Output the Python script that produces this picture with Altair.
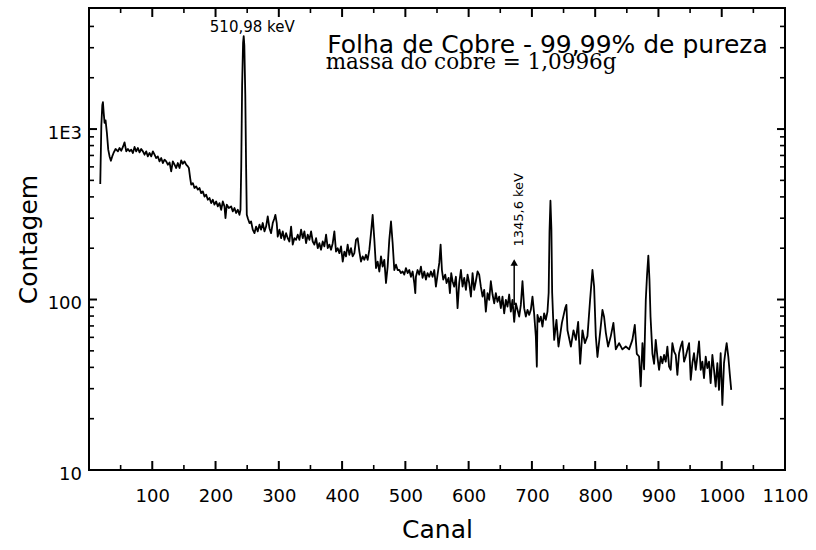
import altair as alt
import pandas as pd

canal = [17.8, 19.5, 21, 22, 23.2, 24.6, 26.2, 28.3, 30.4, 32.5, 34.6, 36.7, 38.8, 42, 45.7, 48.3, 51, 53.6, 56.2, 58.9,
         61.5, 64.1, 66.7, 69.4, 72, 74.6, 77.3, 79.9, 82.5, 85.2, 87.8, 90.4, 93, 95.7, 98.3, 101, 103.6, 106.2, 108.8, 111.5,
         114.1, 116.7, 119.4, 122, 124.6, 127.3, 129.9, 132.5, 135.2, 137.8, 140.4, 143.1, 145.7, 148.3, 151, 153.6, 156.2, 157.8, 159.9, 161.5,
         164.1, 166.7, 169.4, 172, 174.6, 177.3, 179.9, 182.5, 185.2, 187.8, 190.4, 193.1, 195.7, 198.3, 201, 203.6, 206.2, 208.9, 211.5, 214.1,
         215.7, 217.8, 221, 224.6, 227.3, 229.9, 232.5, 235.2, 237.8, 239.4, 240.6, 242, 243.5, 244.5, 245.5, 247, 248.3, 249.4, 251, 253.6,
         256.2, 258.8, 261.5, 264.1, 266.7, 269.4, 272, 274.6, 277.3, 279.9, 282.5, 285.2, 287.8, 290.4, 293.1, 294.6, 296.7, 298.3, 301, 303.6,
         306.2, 308.9, 311.5, 314.1, 316.7, 319.4, 322, 324.6, 327.3, 329.9, 332.5, 335.2, 337.8, 340.4, 343.1, 345.7, 348.3, 351, 353.6, 356.2,
         358.9, 361.5, 364.1, 366.7, 369.4, 372, 374.7, 377.3, 379.9, 382.5, 385.2, 387.8, 390.4, 393.1, 395.7, 398.3, 401, 403.6, 406.2, 408.8,
         411.5, 414.1, 416.7, 419.4, 422, 424.6, 427.3, 429.9, 432.5, 435.2, 437.8, 440.4, 443.1, 445.7, 448.3, 451, 453.6, 456.2, 458.9, 461.5,
         464.1, 466.7, 469.4, 472, 474.6, 477.3, 479.9, 482.5, 485.2, 487.8,
         490.4, 493, 495.7, 498.3, 500.9, 503.6, 506.2, 508.8, 511.5, 514.1, 515.7, 516.7, 519.3, 522, 524.6, 527.2, 529.9, 532.5, 535.1, 537.8,
         540.4, 543, 545.7, 548.3, 550.9, 553.6, 555.7, 557.8, 559.9, 563, 565.1, 568.3, 570.4, 572.5, 574.6, 577.2, 579.9, 582.5, 585.1, 587.8,
         590.4, 593, 595.7, 598.3, 600.9, 603.6, 606.2, 608.8, 611.4, 614.1, 616.7, 619.3, 622, 624.6, 627.2, 629.9, 632.5, 635.1, 637.8, 640.4,
         643, 645.6, 648.3, 650.9, 653.5, 656.2, 658.8, 661.4, 664.1, 666.7, 669.3, 672, 674.6, 677.2, 679.9, 682.5, 685.1, 687.8, 690.4, 693,
         695.7, 698.3, 700.9, 703.5, 706.2, 707.8, 708.8, 711.4, 714.1, 716.7, 719.3, 722, 724.6,
         726.5, 727.8, 729.3, 730.8, 732, 733.5, 735.2, 738.8, 742, 747.4, 752.6, 754.5, 756.2, 761.6,
         765.7, 769.5, 773.1, 776.3, 779.9, 783.7, 787.8, 792, 795.7, 798.3, 801, 803.6, 807.8, 811.5, 814.1, 816.8, 820.4, 824.7, 828.8, 832.6,
         837.8, 843, 848.4, 853.6, 858.8, 862.6, 865.8, 869.4, 872, 874.7, 877.3, 880, 882, 884, 885.8, 887.5, 890.5,
         893.1, 895.7, 898.3, 901, 903.6, 906.2, 908.9, 911.5, 914.1, 916.8, 919.4, 922, 924.7, 927.3, 929.9, 932.6, 935.2, 937.8, 940.5, 943.1,
         945.7, 948.4, 951, 953.6, 956.2, 958.9, 961.5, 964.1, 966.8, 969.4, 972, 974.7, 977.3, 979.9, 982.5, 985.2, 987.8, 990.4, 993.1, 995.7,
         998.3, 1001, 1003.6, 1006.2, 1007.8, 1010.4, 1012.6, 1015]

contagem = [476, 1050, 1380, 1440, 1250, 1086, 1125, 948, 757, 691, 652, 691, 724, 764, 740, 774, 746, 785, 836, 740,
            764, 740, 757, 724, 785, 740, 774, 730, 764, 740, 707, 740, 691, 724, 691, 740, 707, 676, 691, 646,
            676, 632, 661, 646, 618, 637, 565, 646, 618, 591, 632, 591, 655, 626, 646, 618, 604, 591, 516, 472,
            482, 451, 461, 441, 451, 421, 431, 402, 412, 385, 394, 368, 385, 360, 376, 352, 368, 336, 376, 352,
            300, 360, 344, 352, 329, 344, 322, 336, 314, 336, 600, 1800, 3200, 3510, 3100, 1600, 600, 314, 300, 281,
            287, 257, 245, 268, 251, 275, 257, 281, 251, 268, 307, 262, 245, 281, 300, 314, 281, 234, 257, 229,
            251, 224, 245, 229, 219, 268, 210, 229, 224, 240, 224, 257, 229, 251, 214, 240, 224, 251, 219, 210,
            229, 200, 214, 196, 219, 205, 240, 200, 210, 196, 214, 251, 191, 200, 187, 205, 167, 191, 179, 210,
            183, 200, 179, 187, 224, 229, 191, 167, 179, 171, 183, 171, 196, 245, 314, 224, 153, 167, 146, 179,
            156, 171, 125, 156, 224, 287, 214, 149, 160, 149,
            149, 143, 146, 140, 153, 143, 149, 136, 146, 125, 109, 136, 149, 140, 156, 134, 146, 131, 143, 136,
            146, 136, 149, 119, 140, 164, 210, 149, 131, 140, 125, 134, 109, 143, 128, 119, 136, 89, 125, 149,
            119, 134, 114, 140, 125, 104, 143, 114, 128, 146, 140, 119, 104, 114, 85, 109, 99.6, 128, 107, 95,
            109, 97, 104, 89, 104, 83, 99.6, 91, 107, 85, 99.6, 74, 95, 87, 79.4, 93, 128, 89, 79.4, 87,
            81.3, 87, 104, 83, 60.7, 40.4, 81.3, 74, 79.4, 69.4, 83, 76, 85,
            110, 250, 380, 260, 110, 79, 58, 76, 53, 73, 89, 93, 66, 53,
            66, 58, 74, 42, 66, 55.5, 61, 100, 149, 119, 61, 46, 64, 87, 79, 64, 53, 61, 73, 51,
            55.5, 51, 53, 51, 58, 71, 48, 46.3, 31, 55.5, 39, 100, 140, 181, 130, 79, 48,
            42, 58, 46.3, 38.7, 46.3, 42.3, 47.3, 43.2, 53, 40.4, 38.7, 55.5, 49.5, 47.3, 36.1, 48.4, 53, 56.8, 43.2, 46.3,
            50.7, 55.5, 33.8, 42.3, 48.4, 38.7, 46.3, 56.8, 38.7, 43.2, 34.6, 46.3, 39.6, 43.2, 32.3, 47.3, 38.7, 30.8, 42.3, 29.5,
            48.4, 24.1, 42.3, 50.7, 55.5, 46.3, 37, 29.5]

x_major = [100, 200, 300, 400, 500, 600, 700, 800, 900, 1000, 1100]
x_minor = [50, 150, 250, 350, 450, 550, 650, 750, 850, 950, 1050]
y_major = [10, 100, 1000]
y_minor = [20, 30, 40, 50, 60, 70, 80, 90, 200, 300, 400, 500, 600, 700, 800, 900, 2000, 3000, 4000]

peak_label = ["510,98 keV"]
peak_canal = [258]
peak_cont = [3715]

arrow_canal = [672]
arrow_low = [93]
arrow_high = [165]
arrow_label = ["1345,6 keV"]
arrow_label_canal = [679]
arrow_label_cont = [336]

title_lines = ["Folha de Cobre - 99,99% de pureza", "massa do cobre = 1,0996g"]
title_canal = [376.6, 374]
title_cont = [2800, 2265]

W, H = 696, 462
df = pd.DataFrame({"canal": canal, "contagem": contagem})

XS = alt.Scale(domain=[0, 1100], nice=False, zero=False)
YS = alt.Scale(type="log", domain=[10, 5130], nice=False)
SANS = "DejaVu Sans"

X_AXIS = alt.Axis(orient="bottom", values=x_major, ticks=False, domain=False, grid=False, format="d",
                  labelPadding=17, labelFont=SANS, labelFontSize=18, labelColor="black",
                  labelFlush=False, labelOverlap=False,
                  title="Canal", titleFont=SANS, titleFontSize=25, titleFontWeight="normal",
                  titleColor="black", titlePadding=12)
Y_AXIS = alt.Axis(orient="left", values=y_major, ticks=False, domain=False, grid=False,
                  labelPadding=7.5, labelFont=SANS, labelFontSize=18, labelColor="black",
                  labelFlush=False, labelOverlap=False, labelOffset=4,
                  labelExpr="datum.value >= 1000 ? '1E3' : (datum.value >= 100 ? '100' : '10')",
                  title="Contagem", titleFont=SANS, titleFontSize=25, titleFontWeight="normal",
                  titleColor="black", titlePadding=6)


def X(field="canal"):
    return alt.X(f"{field}:Q", scale=XS, axis=X_AXIS, title="Canal")


def Y(field="contagem"):
    return alt.Y(f"{field}:Q", scale=YS, axis=Y_AXIS, title="Contagem")


line = alt.Chart(df).mark_line(color="black", strokeWidth=1.8, strokeJoin="round").encode(
    x=X(), y=Y())


def xticks(values, length, width):
    d = pd.DataFrame({"canal": values})
    bottom = alt.Chart(d).mark_rule(color="black", strokeWidth=width).encode(
        x=X(), y=alt.value(H), y2=alt.value(H - length))
    top = alt.Chart(d).mark_rule(color="black", strokeWidth=width).encode(
        x=X(), y=alt.value(0), y2=alt.value(length))
    return [bottom, top]


def yticks(values, length, width):
    d = pd.DataFrame({"contagem": values})
    left = alt.Chart(d).mark_rule(color="black", strokeWidth=width).encode(
        y=Y(), x=alt.value(0), x2=alt.value(length))
    right = alt.Chart(d).mark_rule(color="black", strokeWidth=width).encode(
        y=Y(), x=alt.value(W - length), x2=alt.value(W))
    return [left, right]


ticks = xticks(x_major, 9, 2) + xticks(x_minor, 5, 1.6) + yticks(y_major, 8, 2) + yticks(y_minor, 5, 1.6)

arrow_df = pd.DataFrame({"canal": arrow_canal, "contagem": arrow_low, "top": arrow_high})
shaft = alt.Chart(arrow_df).mark_rule(color="black", strokeWidth=1.5).encode(
    x=X(), y=Y(), y2="top:Q")

head_df = pd.DataFrame({"canal": arrow_canal, "contagem": arrow_high})
head = alt.Chart(head_df).mark_point(shape="triangle-up", filled=True, color="black", size=55, opacity=1).encode(
    x=X(), y=Y())

peak_df = pd.DataFrame({"canal": peak_canal, "contagem": peak_cont, "t": peak_label})
peak_txt = alt.Chart(peak_df).mark_text(font=SANS, fontSize=15, color="black", align="center",
                                        baseline="alphabetic").encode(
    x=X(), y=Y(), text="t:N")

t1_df = pd.DataFrame({"canal": title_canal[:1], "contagem": title_cont[:1], "t": title_lines[:1]})
t1 = alt.Chart(t1_df).mark_text(font=SANS, fontSize=25, color="black", align="left",
                                baseline="alphabetic").encode(
    x=X(), y=Y(), text="t:N")

t2_df = pd.DataFrame({"canal": title_canal[1:], "contagem": title_cont[1:], "t": title_lines[1:]})
t2 = alt.Chart(t2_df).mark_text(font="DejaVu Serif", fontSize=21.5, color="black", align="left",
                                baseline="alphabetic").encode(
    x=X(), y=Y(), text="t:N")

a_df = pd.DataFrame({"canal": arrow_label_canal, "contagem": arrow_label_cont, "t": arrow_label})
a_txt = alt.Chart(a_df).mark_text(font=SANS, fontSize=13, color="black", align="center",
                                  baseline="middle", angle=270).encode(
    x=X(), y=Y(), text="t:N")

chart = alt.layer(line, *ticks, shaft, head, peak_txt, t1, t2, a_txt).properties(
    width=W, height=H,
    autosize=alt.AutoSizeParams(type="none"),
    padding={"left": 89, "top": 8, "right": 31, "bottom": 80},
    background="white",
).configure_view(stroke="black", strokeWidth=2)

chart.save("out.html", embed_options={"renderer": "svg", "actions": False})
